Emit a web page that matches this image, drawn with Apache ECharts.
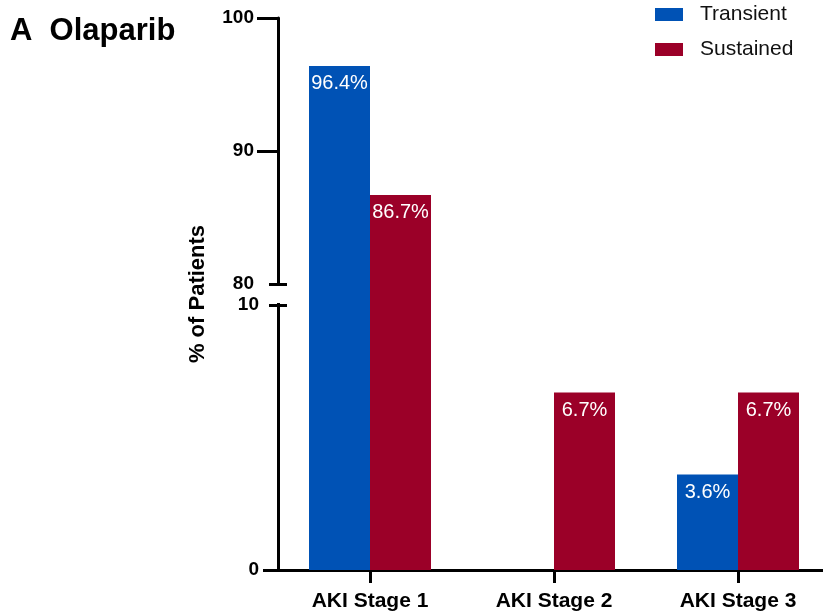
<!DOCTYPE html>
<html>
<head>
<meta charset="utf-8">
<title>Olaparib AKI</title>
<script src="https://cdn.jsdelivr.net/npm/echarts@6/dist/echarts.min.js"></script>
<style>
  html, body { margin: 0; padding: 0; background: #fff; }
  #chart { width: 823px; height: 616px; }
</style>
</head>
<body>
<div id="chart"></div>
<script>
// Data
const categories = ['AKI Stage 1', 'AKI Stage 2', 'AKI Stage 3'];
const transient = [96.4, 0, 3.6];
const sustained = [86.7, 6.7, 6.7];
const upperTicks = [80, 90, 100];
const lowerTicks = [0, 10];

// Layout of the broken y axis
const FONT = '"Liberation Sans", Arial, Helvetica, sans-serif';
const BLUE = '#0052b5';
const RED = '#9b0028';
const plotLeft = 278;
const plotWidth = 552;     // the last category runs slightly past the right edge
const upperTopPx = 18;     // pixel of 100
const breakPx = 284;       // pixel of 80
const lowerTopPx = 305;    // pixel of 10
const lowerBottomPx = 570; // pixel of 0
const upperMax = upperTicks[upperTicks.length - 1];
const upperMin = upperTicks[0];
const lowerMax = lowerTicks[lowerTicks.length - 1];
// the upper panel is stretched down to the lower panel so tall bars run through the break
const upperAxisMin = upperMax - (upperMax - upperMin) * (lowerTopPx - upperTopPx) / (breakPx - upperTopPx);

const axisColor = '#000';

function upperData(arr) {
  return arr.map(v => v >= upperMin ? {
    value: v,
    label: { show: true }
  } : '-');
}
function lowerData(arr) {
  return arr.map(v => ({
    value: Math.min(v, lowerMax),
    label: { show: v > 0 && v <= lowerMax }
  }));
}

const labelStyle = {
  position: 'insideTop',
  distance: 8,
  color: '#fff',
  fontSize: 20,
  fontFamily: FONT
};

function barSeries(name, color, arr, part) {
  const upper = part === 'upper';
  return {
    name: name,
    type: 'bar',
    xAxisIndex: upper ? 0 : 1,
    yAxisIndex: upper ? 0 : 3,
    barWidth: 61,
    barGap: '0%',
    itemStyle: { color: color },
    label: Object.assign({}, labelStyle, {
      formatter: p => arr[p.dataIndex] + '%'
    }),
    data: upper ? upperData(arr) : lowerData(arr)
  };
}

const tickLabel = {
  fontSize: 19,
  fontWeight: 'bold',
  color: '#000',
  fontFamily: FONT
};

function overlayAxis(gridIndex, min, max, values, inside, length) {
  return {
    type: 'value',
    gridIndex: gridIndex,
    position: 'left',
    offset: 0,
    min: min,
    max: max,
    axisLine: { show: false },
    axisTick: {
      show: true,
      customValues: values,
      inside: inside,
      length: length,
      lineStyle: { color: axisColor, width: 3 }
    },
    axisLabel: { show: false },
    splitLine: { show: false }
  };
}

const gridBase = {
  left: plotLeft,
  width: plotWidth,
  containLabel: false,
  outerBoundsMode: 'none'
};

const chart = echarts.init(document.getElementById('chart'));
chart.setOption({
  backgroundColor: '#fff',
  animation: false,
  title: {
    text: 'A  Olaparib',
    left: 10,
    top: 16,
    padding: 0,
    textStyle: { fontSize: 31, fontWeight: 'bold', color: '#000', fontFamily: FONT }
  },
  legend: {
    orient: 'vertical',
    left: 655,
    top: 4,
    padding: 0,
    icon: 'rect',
    itemWidth: 28,
    itemHeight: 13,
    itemGap: 14,
    data: ['Transient', 'Sustained'],
    textStyle: {
      fontSize: 21,
      color: '#111',
      fontFamily: FONT,
      padding: [0, 0, 0, 12]
    }
  },
  grid: [
    Object.assign({}, gridBase, { top: upperTopPx, height: lowerTopPx - upperTopPx }),
    Object.assign({}, gridBase, { top: lowerTopPx, height: lowerBottomPx - lowerTopPx })
  ],
  xAxis: [
    { type: 'category', gridIndex: 0, data: categories, show: false },
    {
      type: 'category',
      gridIndex: 1,
      data: categories,
      axisLine: { show: true, lineStyle: { color: axisColor, width: 3 } },
      axisTick: { show: true, alignWithLabel: true, length: 13, lineStyle: { color: axisColor, width: 3 } },
      axisLabel: Object.assign({}, tickLabel, { fontSize: 21, margin: 21 }),
      splitLine: { show: false }
    }
  ],
  yAxis: [
    {
      type: 'value',
      gridIndex: 0,
      position: 'left',
      min: upperAxisMin,
      max: upperMax,
      axisLine: { show: true, lineStyle: { color: axisColor, width: 3 } },
      axisTick: {
        show: true,
        customValues: upperTicks.filter(v => v > upperMin),
        length: 21,
        lineStyle: { color: axisColor, width: 3 }
      },
      axisLabel: Object.assign({}, tickLabel, { customValues: upperTicks, margin: 24 }),
      splitLine: { show: false }
    },
    overlayAxis(0, upperAxisMin, upperMax, [upperMin], false, 9),
    overlayAxis(0, upperAxisMin, upperMax, [upperMin], true, 9),
    {
      type: 'value',
      gridIndex: 1,
      position: 'left',
      min: 0,
      max: lowerMax,
      axisLine: { show: true, lineStyle: { color: axisColor, width: 3 } },
      axisTick: {
        show: true,
        customValues: [0],
        length: 15,
        lineStyle: { color: axisColor, width: 3 }
      },
      axisLabel: Object.assign({}, tickLabel, { customValues: lowerTicks, margin: 19 }),
      splitLine: { show: false }
    },
    overlayAxis(1, 0, lowerMax, [lowerMax], false, 9),
    overlayAxis(1, 0, lowerMax, [lowerMax], true, 9)
  ],
  graphic: [
    {
      // gap in the y axis line between the two panels
      type: 'rect',
      silent: true,
      z: 100,
      shape: { x: plotLeft - 5, y: breakPx + 2, width: 10, height: lowerTopPx - breakPx - 4 },
      style: { fill: '#fff' }
    },
    {
      type: 'text',
      silent: true,
      x: 198,
      y: 294,
      rotation: Math.PI / 2,
      style: {
        text: '% of Patients',
        fontSize: 22,
        fontWeight: 'bold',
        fontFamily: FONT,
        fill: '#000',
        align: 'center',
        verticalAlign: 'middle'
      }
    }
  ],
  series: [
    barSeries('Transient', BLUE, transient, 'upper'),
    barSeries('Sustained', RED, sustained, 'upper'),
    barSeries('Transient', BLUE, transient, 'lower'),
    barSeries('Sustained', RED, sustained, 'lower')
  ]
});
</script>
</body>
</html>
